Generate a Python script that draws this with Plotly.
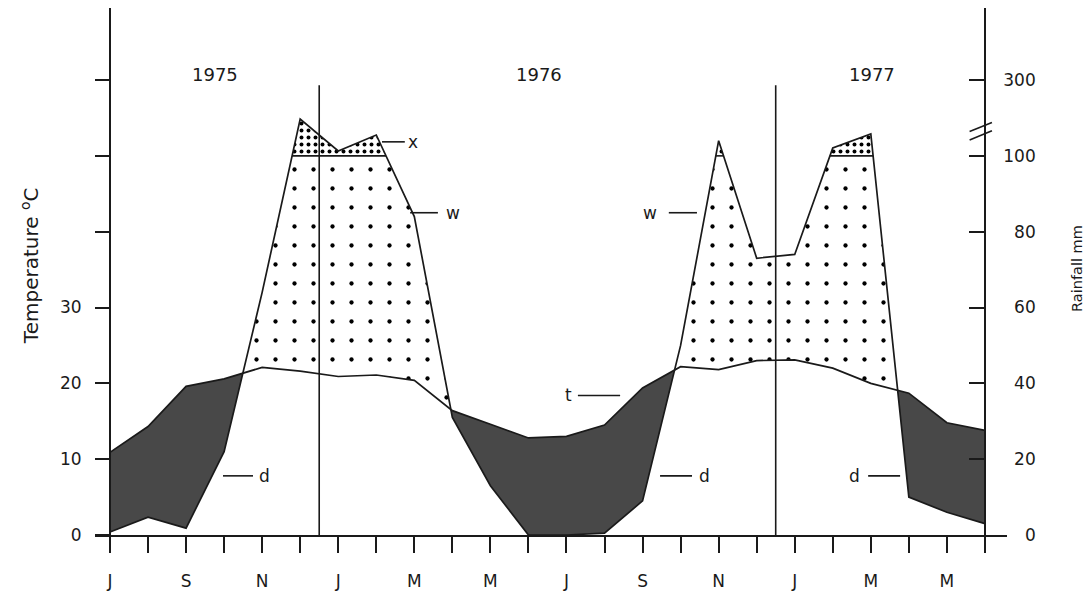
import numpy as np
import plotly.graph_objects as go

# ---------------- data ----------------
months = ["Jul 1975", "Aug 1975", "Sep 1975", "Oct 1975", "Nov 1975", "Dec 1975",
          "Jan 1976", "Feb 1976", "Mar 1976", "Apr 1976", "May 1976", "Jun 1976",
          "Jul 1976", "Aug 1976", "Sep 1976", "Oct 1976", "Nov 1976", "Dec 1976",
          "Jan 1977", "Feb 1977", "Mar 1977", "Apr 1977", "May 1977", "Jun 1977"]
month_label_idx = [0, 2, 4, 6, 8, 10, 12, 14, 16, 18, 20, 22]
month_label_text = ["J", "S", "N", "J", "M", "M", "J", "S", "N", "J", "M", "M"]
temperature_c = [10.9, 14.3, 19.6, 20.6, 22.1, 21.6, 20.9, 21.1, 20.4, 16.4, 14.6, 12.8,
                 13.0, 14.5, 19.4, 22.2, 21.8, 23.0, 23.1, 22.0, 20.0, 18.7, 14.8, 13.8]
rainfall_mm = [0.8, 4.7, 1.8, 22, 64, 197, 113, 155, 84, 31, 13, 0,
               0, 0.5, 9, 50, 140, 73, 74, 121, 158, 10, 6, 3]
year_labels = ["1975", "1976", "1977"]
year_boundaries = [5.5, 17.5]          # between Dec and Jan
temp_tick_labelled = [0, 10, 20, 30]
temp_tick_unlabelled = [40, 50, 60]
rain_tick_mm = [0, 20, 40, 60, 80, 100, 300]


def rain_axis(r):
    """Walter-Lieth scale: 20 mm = 10 degC up to 100 mm, then 200 mm = 10 degC."""
    r = np.asarray(r, dtype=float)
    return np.where(r <= 100, r / 2.0, 50 + (r - 100) / 20.0)


n = len(months)
x = np.arange(n, dtype=float)
t = np.asarray(temperature_c, dtype=float)
r = rain_axis(rainfall_mm)
LIM = 50.0  # 100 mm level

# add crossing points so fills split exactly
xs = list(x)
for i in range(n - 1):
    for a0, a1 in [(t[i], t[i + 1]), (LIM, LIM)]:
        d0 = r[i] - a0
        d1 = r[i + 1] - a1
        if d0 * d1 < 0:
            xs.append(x[i] + d0 / (d0 - d1))
xd = np.array(sorted(set(xs)))
td = np.interp(xd, x, t)
rd = np.interp(xd, x, r)

INK = "#1a1a1a"
DARK = "#484848"

fig = go.Figure()

# arid period (temperature above rainfall)
fig.add_trace(go.Scatter(x=xd, y=np.minimum(td, rd), mode="lines",
                         line=dict(width=0), hoverinfo="skip"))
fig.add_trace(go.Scatter(x=xd, y=td, mode="lines", line=dict(width=0),
                         fill="tonexty", fillcolor=DARK, hoverinfo="skip"))
# humid period (rainfall above temperature, below 100 mm)
fig.add_trace(go.Scatter(x=xd, y=td, mode="lines", line=dict(width=0), hoverinfo="skip"))
fig.add_trace(go.Scatter(x=xd, y=np.maximum(td, np.minimum(rd, LIM)), mode="lines",
                         line=dict(width=0), fill="tonexty", fillcolor="white",
                         fillpattern=dict(shape=".", size=19, solidity=0.04,
                                          fgcolor="black", fgopacity=1, bgcolor="white"),
                         hoverinfo="skip"))
# perhumid period (above 100 mm)
fig.add_trace(go.Scatter(x=xd, y=np.full_like(xd, LIM), mode="lines",
                         line=dict(width=0), hoverinfo="skip"))
fig.add_trace(go.Scatter(x=xd, y=np.maximum(rd, LIM), mode="lines",
                         line=dict(width=0), fill="tonexty", fillcolor="white",
                         fillpattern=dict(shape=".", size=7, solidity=0.25,
                                          fgcolor="black", fgopacity=1, bgcolor="white"),
                         hoverinfo="skip"))
# 100 mm line where exceeded
lim_line = [LIM if v >= LIM - 1e-6 else None for v in rd]
fig.add_trace(go.Scatter(x=xd, y=lim_line, mode="lines", connectgaps=False,
                         line=dict(color=INK, width=1.6), hoverinfo="skip"))
# temperature curve
fig.add_trace(go.Scatter(x=x, y=t, mode="lines", name="Temperature",
                         line=dict(color=INK, width=1.7)))
# rainfall curve (right axis)
fig.add_trace(go.Scatter(x=x, y=r, mode="lines", name="Rainfall", yaxis="y2",
                         line=dict(color=INK, width=1.7)))

# year divisions
for xb in year_boundaries:
    fig.add_shape(type="line", x0=xb, x1=xb, y0=0, y1=59.3, xref="x", yref="y",
                  line=dict(color=INK, width=1.6), layer="above")

# leader lines and letters
leaders = [
    ("x", 7.97, 51.85, 7.15, 7.75),
    ("w", 9.02, 42.5, 7.89, 8.62),
    ("w", 14.2, 42.5, 14.69, 15.43),
    ("t", 12.04, 18.4, 12.30, 13.41),
    ("d", 4.07, 7.8, 2.97, 3.76),
    ("d", 15.64, 7.8, 14.46, 15.30),
    ("d", 19.58, 7.8, 19.93, 20.77),
]
for txt, tx, ty, lx0, lx1 in leaders:
    fig.add_shape(type="line", x0=lx0, x1=lx1, y0=ty, y1=ty, xref="x", yref="y",
                  line=dict(color=INK, width=1.6))
    fig.add_annotation(x=tx, y=ty, xref="x", yref="y", text=txt, showarrow=False,
                       font=dict(size=17, color=INK), xanchor="center", yanchor="middle")

# year labels
for lab, xp in zip(year_labels, [2.76, 11.28, 20.03]):
    fig.add_annotation(x=xp, y=60.7, xref="x", yref="y", text=lab, showarrow=False,
                       font=dict(size=18, color=INK))

# axis titles
fig.add_annotation(x=-0.0713, y=0.512, xref="paper", yref="paper",
                   xanchor="center", yanchor="middle",
                   text="Temperature <sup>o</sup>C", textangle=-90, showarrow=False,
                   font=dict(size=20, color=INK))
fig.add_annotation(x=1.0768, y=0.505, xref="paper", yref="paper",
                   xanchor="center", yanchor="middle",
                   text="Rainfall mm", textangle=-90, showarrow=False,
                   font=dict(size=14.5, color=INK))

# axis break marks on rainfall axis
for y0, y1 in [(53.2, 54.4), (52.1, 53.3)]:
    fig.add_shape(type="line", x0=0.959, x1=0.9835, y0=y0, y1=y1, xref="paper", yref="y",
                  line=dict(color=INK, width=1.6))

rain_tick_pos = rain_axis(rain_tick_mm)
rain_tick_text = ["\u2007" * (3 - len(str(v))) + str(v) for v in rain_tick_mm]

fig.update_layout(
    width=1089, height=594,
    margin=dict(l=95, r=82, t=8, b=59, autoexpand=False),
    paper_bgcolor="white", plot_bgcolor="white",
    showlegend=False,
    font=dict(family="DejaVu Sans", size=17, color=INK),
    xaxis=dict(range=[-0.394, 23.58], tickmode="array", automargin=False,
               tickvals=month_label_idx, ticktext=month_label_text,
               ticks="outside", ticklen=16, tickwidth=1.6, tickcolor=INK,
               minor=dict(tickmode="linear", tick0=1, dtick=2, ticks="outside",
                          ticklen=16, tickwidth=1.6, tickcolor=INK, showgrid=False),
               showline=True, linewidth=1.8, linecolor=INK,
               showgrid=False, zeroline=False, ticklabelstandoff=14,
               tickfont=dict(size=17)),
    yaxis=dict(range=[0, 69.5], anchor="free", position=15 / 912, side="left",
               automargin=False,
               tickmode="array", tickvals=temp_tick_labelled,
               ticktext=[str(v) for v in temp_tick_labelled],
               minor=dict(tickmode="array", tickvals=temp_tick_unlabelled, ticks="outside",
                          ticklen=14, tickwidth=1.6, tickcolor=INK, showgrid=False),
               ticks="outside", ticklen=14, tickwidth=1.6, tickcolor=INK,
               showline=True, linewidth=1.8, linecolor=INK,
               showgrid=False, zeroline=False, ticklabelstandoff=10,
               tickfont=dict(size=17)),
    yaxis2=dict(range=[0, 69.5], overlaying="y", anchor="free", position=890 / 912,
                side="right", tickvals=list(rain_tick_pos), ticktext=rain_tick_text,
                automargin=False,
                ticks="inside", ticklen=15, tickwidth=1.6, tickcolor=INK,
                showline=True, linewidth=1.8, linecolor=INK,
                showgrid=False, zeroline=False, ticklabelstandoff=14,
                tickfont=dict(size=17)),
)

fig.write_html("out.html")
